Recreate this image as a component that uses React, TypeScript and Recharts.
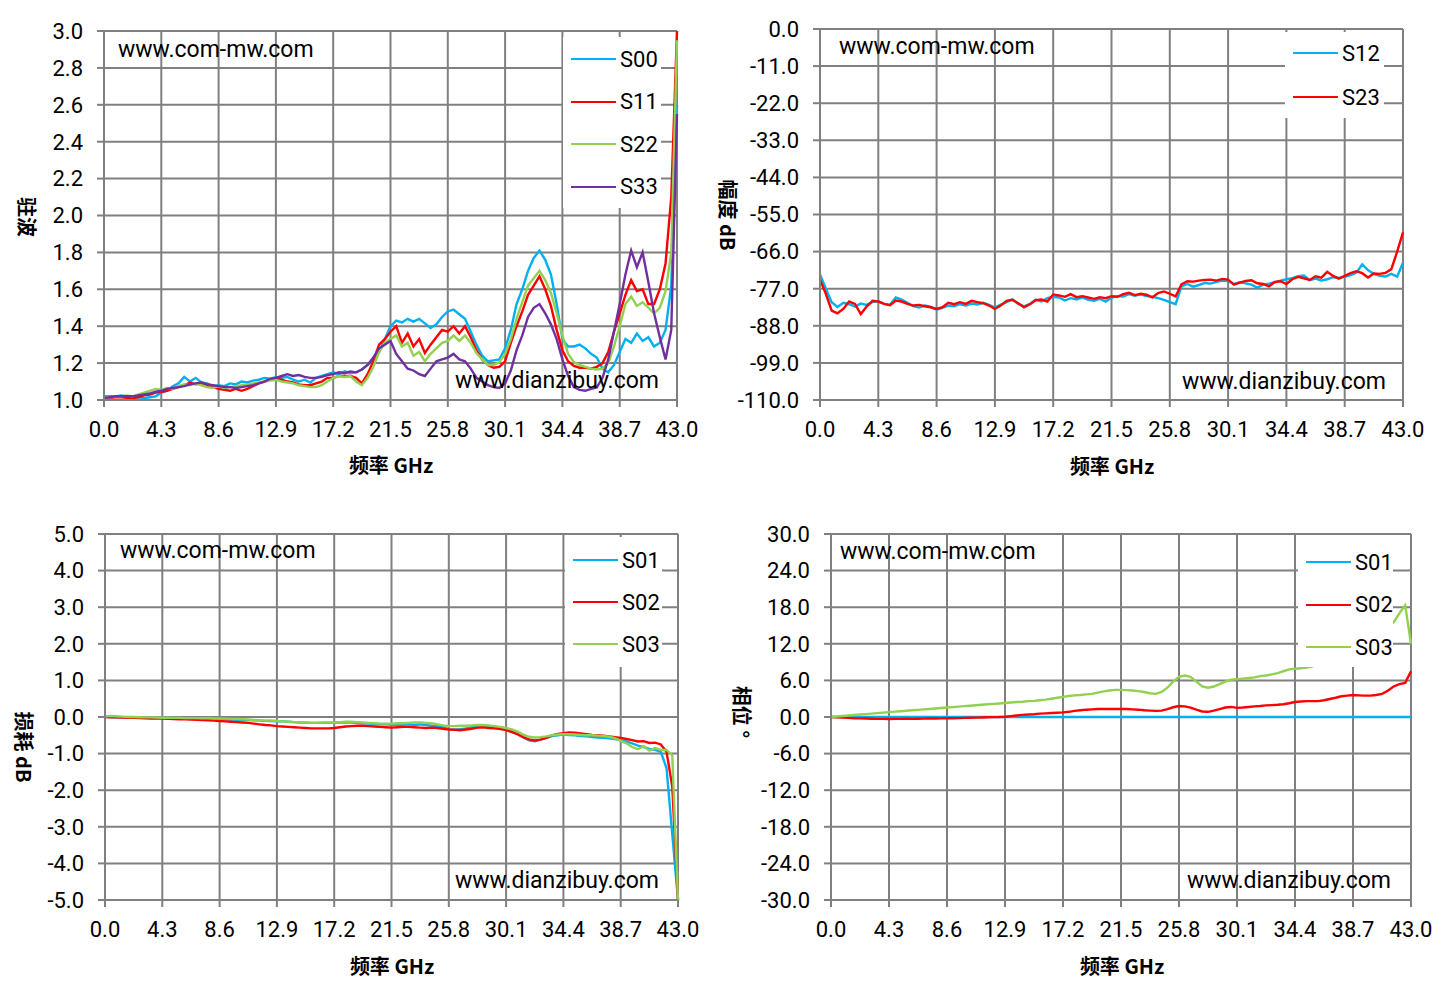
import React from 'react';
import { LineChart, Line, XAxis, YAxis, CartesianGrid, Legend } from 'recharts';

const FONT = "Roboto, 'Noto Sans CJK SC', sans-serif";
const CJK = "'Noto Sans CJK SC', Roboto, sans-serif";
const GRID = '#808080';

const BLUE = '#00b0f0';
const RED = '#ff0000';
const GREEN = '#92d050';
const PURPLE = '#7030a0';

const FREQ_TICKS = [0, 4.3, 8.6, 12.9, 17.2, 21.5, 25.8, 30.1, 34.4, 38.7, 43];
const VSWR_TICKS = [1, 1.2, 1.4, 1.6, 1.8, 2, 2.2, 2.4, 2.6, 2.8, 3];
const MAG_TICKS = [-110, -99, -88, -77, -66, -55, -44, -33, -22, -11, 0];
const LOSS_TICKS = [-5, -4, -3, -2, -1, 0, 1, 2, 3, 4, 5];
const PHASE_TICKS = [-30, -24, -18, -12, -6, 0, 6, 12, 18, 24, 30];

// VSWR (top left), one value every 0.43 GHz
const VSWR_S00 = [
  1.02, 1.02, 1.02, 1.025, 1.02, 1.015, 1.015, 1.01, 1.015, 1.02,
  1.04, 1.05, 1.075, 1.09, 1.125, 1.10, 1.12, 1.095, 1.09, 1.075,
  1.08, 1.075, 1.09, 1.085, 1.10, 1.095, 1.105, 1.11, 1.12, 1.115,
  1.125, 1.12, 1.125, 1.11, 1.10, 1.11, 1.095, 1.12, 1.13, 1.14,
  1.15, 1.14, 1.155, 1.145, 1.15, 1.165, 1.19, 1.22, 1.26, 1.33,
  1.40, 1.43, 1.42, 1.44, 1.425, 1.44, 1.415, 1.39, 1.41, 1.45,
  1.48, 1.49, 1.465, 1.44, 1.37, 1.30, 1.24, 1.21, 1.215, 1.22,
  1.28, 1.38, 1.52, 1.60, 1.70, 1.77, 1.81, 1.76, 1.68, 1.52,
  1.33, 1.29, 1.29, 1.30, 1.28, 1.25, 1.23, 1.17, 1.15, 1.19,
  1.26, 1.33, 1.31, 1.36, 1.32, 1.34, 1.29, 1.31, 1.38, 1.62, 2.60,
];
const VSWR_S11 = [
  1.01, 1.012, 1.015, 1.015, 1.012, 1.01, 1.015, 1.025, 1.03, 1.04,
  1.045, 1.05, 1.06, 1.07, 1.08, 1.095, 1.085, 1.09, 1.075, 1.07,
  1.06, 1.055, 1.05, 1.06, 1.05, 1.06, 1.075, 1.09, 1.10, 1.11,
  1.115, 1.11, 1.10, 1.095, 1.085, 1.08, 1.08, 1.09, 1.10, 1.12,
  1.12, 1.13, 1.13, 1.13, 1.12, 1.09, 1.14, 1.21, 1.30, 1.33,
  1.37, 1.40, 1.31, 1.36, 1.29, 1.33, 1.255, 1.30, 1.34, 1.38,
  1.37, 1.40, 1.36, 1.40, 1.34, 1.27, 1.22, 1.19, 1.175, 1.18,
  1.21, 1.31, 1.40, 1.48, 1.57, 1.62, 1.67, 1.60, 1.51, 1.38,
  1.27, 1.21, 1.185, 1.175, 1.175, 1.17, 1.18, 1.20, 1.26, 1.37,
  1.47, 1.57, 1.65, 1.59, 1.60, 1.52, 1.52, 1.60, 1.74, 2.10, 3.0,
];
const VSWR_S22 = [
  1.01, 1.015, 1.02, 1.02, 1.025, 1.02, 1.03, 1.04, 1.05, 1.06,
  1.055, 1.065, 1.06, 1.075, 1.085, 1.08, 1.09, 1.08, 1.07, 1.065,
  1.075, 1.065, 1.07, 1.075, 1.08, 1.085, 1.09, 1.095, 1.10, 1.105,
  1.11, 1.10, 1.095, 1.09, 1.08, 1.075, 1.07, 1.07, 1.08, 1.10,
  1.12, 1.13, 1.125, 1.13, 1.10, 1.08, 1.12, 1.18, 1.26, 1.31,
  1.33, 1.35, 1.29, 1.31, 1.24, 1.26, 1.21, 1.25, 1.28, 1.31,
  1.32, 1.35, 1.32, 1.35, 1.31, 1.255, 1.22, 1.19, 1.19, 1.205,
  1.25, 1.33, 1.44, 1.53, 1.62, 1.66, 1.70, 1.65, 1.58, 1.47,
  1.35, 1.25, 1.205, 1.19, 1.18, 1.17, 1.165, 1.17, 1.20, 1.29,
  1.40, 1.52, 1.56, 1.51, 1.53, 1.50, 1.47, 1.50, 1.59, 1.80, 2.95,
];
const VSWR_S33 = [
  1.01, 1.015, 1.02, 1.02, 1.02, 1.02, 1.025, 1.03, 1.035, 1.045,
  1.05, 1.06, 1.065, 1.07, 1.075, 1.085, 1.09, 1.095, 1.085, 1.08,
  1.075, 1.07, 1.07, 1.065, 1.07, 1.075, 1.08, 1.09, 1.10, 1.115,
  1.12, 1.13, 1.14, 1.13, 1.135, 1.125, 1.12, 1.12, 1.125, 1.135,
  1.14, 1.15, 1.145, 1.155, 1.15, 1.165, 1.19, 1.23, 1.28, 1.30,
  1.32, 1.25, 1.21, 1.17, 1.16, 1.14, 1.13, 1.17, 1.21, 1.22,
  1.23, 1.25, 1.22, 1.21, 1.17, 1.12, 1.10, 1.08, 1.07, 1.065,
  1.09, 1.16, 1.27, 1.35, 1.45, 1.50, 1.52, 1.47, 1.41, 1.33,
  1.22, 1.13, 1.07, 1.055, 1.05, 1.06, 1.068, 1.12, 1.22, 1.37,
  1.52, 1.68, 1.81, 1.72, 1.80, 1.64, 1.47, 1.34, 1.22, 1.38, 2.55,
];

// isolation magnitude, dB (top right)
const MAG_S12 = [
  -72.8, -77, -81, -82.4, -81.2, -81.6, -82.3, -81.4, -81.8, -81,
  -80.7, -81.5, -81.8, -79.6, -80.2, -81.2, -82.2, -82.6, -82, -82.4,
  -83.2, -82.7, -82, -82.2, -81.6, -82, -81.4, -81.7, -81.2, -81.8,
  -82.6, -81.7, -81, -80.2, -81.5, -82.2, -81.5, -80.3, -80.8, -79.8,
  -79.4, -79.6, -80.5, -79.8, -80.2, -79.6, -80.3, -80.6, -80, -80.8,
  -79.7, -79.2, -79.3, -78.6, -79.1, -78.7, -79.2, -79.4, -79.8, -80.3,
  -81, -81.6, -76.3, -75.6, -76.4, -75.9, -75.3, -75.5, -75, -74.6,
  -74.7, -75.6, -75.1, -75.4, -75.8, -76.7, -75.8, -75.5, -75.1, -74.6,
  -74.2, -73.9, -73.3, -73.1, -74.5, -74, -74.6, -74.2, -73.6, -73.8,
  -73.5, -73, -72.3, -69.8, -71.5, -72.6, -73.2, -73.4, -72.6, -73.4, -69.3,
];
const MAG_S23 = [
  -74.3, -78.5, -83.5, -84.3, -83, -80.8, -81.5, -84.5, -82.3, -80.6,
  -80.8, -81.5, -81.9, -80.5, -80.8, -81.5, -82, -81.8, -82.2, -82.5,
  -83, -82.5, -81.2, -81.6, -81, -81.5, -80.6, -81, -81.3, -82,
  -83, -82, -80.6, -80.3, -81.3, -82.5, -81.6, -80.4, -80.2, -80.8,
  -78.7, -79, -79.4, -78.6, -79.5, -79.2, -79.6, -80, -79.5, -79.8,
  -79.2, -79.4, -78.6, -78.2, -78.9, -78.5, -78.8, -79.6, -78.3, -77.8,
  -78.5, -79.3, -75.7, -74.8, -74.9, -74.6, -74.4, -74.3, -74.6, -74.1,
  -74.3, -75.8, -75.2, -74.7, -74.5, -75.4, -75.6, -76.3, -75, -74.8,
  -75.6, -74.2, -73.5, -73.9, -74.4, -73.3, -73.7, -72, -73.2, -74,
  -73.2, -72.4, -71.8, -72.4, -73.7, -72.5, -72.6, -72.3, -71.2, -66, -60.3,
];

// insertion loss, dB (bottom left)
const LOSS_S01 = [
  0, 0, -0.01, -0.01, -0.01, -0.015, -0.02, -0.02, -0.02, -0.025,
  -0.03, -0.03, -0.035, -0.035, -0.04, -0.04, -0.045, -0.05, -0.05, -0.055,
  -0.06, -0.065, -0.07, -0.075, -0.08, -0.085, -0.09, -0.1, -0.105, -0.11,
  -0.115, -0.12, -0.13, -0.14, -0.15, -0.155, -0.16, -0.16, -0.16, -0.16,
  -0.155, -0.15, -0.15, -0.15, -0.16, -0.17, -0.18, -0.19, -0.2, -0.2,
  -0.21, -0.21, -0.21, -0.2, -0.22, -0.2, -0.22, -0.24, -0.25, -0.28,
  -0.33, -0.35, -0.33, -0.31, -0.28, -0.27, -0.26, -0.27, -0.29, -0.3,
  -0.33, -0.4, -0.47, -0.56, -0.64, -0.66, -0.62, -0.57, -0.52, -0.5,
  -0.48, -0.49, -0.5, -0.52, -0.53, -0.55, -0.56, -0.57, -0.58, -0.6,
  -0.63, -0.67, -0.72, -0.78, -0.82, -0.87, -0.9, -0.95, -1.4, -3.2, -5,
];
const LOSS_S02 = [
  0, -0.005, -0.01, -0.015, -0.02, -0.025, -0.03, -0.035, -0.04, -0.045,
  -0.045, -0.05, -0.055, -0.06, -0.065, -0.07, -0.075, -0.08, -0.09, -0.1,
  -0.11, -0.12, -0.13, -0.14, -0.15, -0.16, -0.18, -0.2, -0.22, -0.23,
  -0.25, -0.26, -0.27, -0.28, -0.29, -0.3, -0.31, -0.31, -0.31, -0.31,
  -0.3, -0.28, -0.26, -0.25, -0.24, -0.24, -0.25, -0.26, -0.27, -0.28,
  -0.29, -0.28, -0.27, -0.27, -0.28, -0.29, -0.3, -0.29, -0.3, -0.32,
  -0.34, -0.35, -0.36, -0.34, -0.32, -0.29, -0.28, -0.3, -0.31, -0.33,
  -0.36, -0.41, -0.47, -0.55, -0.61, -0.64, -0.62, -0.57, -0.5, -0.46,
  -0.44, -0.42, -0.43, -0.45, -0.47, -0.49, -0.5, -0.51, -0.53, -0.55,
  -0.57, -0.6, -0.63, -0.67, -0.66, -0.71, -0.7, -0.75, -0.95, -1.9, -5,
];
const LOSS_S03 = [
  0.01, 0.03, 0.02, 0.01, 0, 0, -0.005, -0.01, -0.01, -0.015,
  -0.02, -0.02, -0.025, -0.025, -0.03, -0.03, -0.03, -0.035, -0.035, -0.04,
  -0.04, -0.045, -0.05, -0.055, -0.06, -0.07, -0.08, -0.09, -0.1, -0.1,
  -0.11, -0.12, -0.13, -0.14, -0.15, -0.15, -0.16, -0.16, -0.15, -0.15,
  -0.15, -0.14, -0.13, -0.13, -0.14, -0.15, -0.16, -0.17, -0.18, -0.18,
  -0.18, -0.17, -0.17, -0.16, -0.15, -0.15, -0.16, -0.17, -0.2, -0.23,
  -0.25, -0.25, -0.24, -0.24, -0.23, -0.22, -0.22, -0.23, -0.25, -0.27,
  -0.3, -0.34, -0.4, -0.48, -0.54, -0.56, -0.55, -0.53, -0.5, -0.48,
  -0.47, -0.47, -0.48, -0.49, -0.5, -0.5, -0.51, -0.52, -0.54, -0.58,
  -0.65, -0.72, -0.82, -0.88, -0.8, -0.92, -0.85, -0.9, -0.9, -1.05, -5,
];

// phase, degrees (bottom right)
const PHASE_S01 = [
  0, 0, 0, 0, 0, 0, 0, 0, 0, 0,
  0, 0, 0, 0, 0, 0, 0, 0, 0, 0,
  0, 0, 0, 0, 0, 0, 0, 0, 0, 0,
  0, 0, 0, 0, 0, 0, 0, 0, 0, 0,
  0, 0, 0, 0, 0, 0, 0, 0, 0, 0,
  0, 0, 0, 0, 0, 0, 0, 0, 0, 0,
  0, 0, 0, 0, 0, 0, 0, 0, 0, 0,
  0, 0, 0, 0, 0, 0, 0, 0, 0, 0,
  0, 0, 0, 0, 0, 0, 0, 0, 0, 0,
  0, 0, 0, 0, 0, 0, 0, 0, 0, 0, 0,
];
const PHASE_S02 = [
  0, -0.05, -0.1, -0.15, -0.2, -0.22, -0.25, -0.28, -0.3, -0.3,
  -0.32, -0.3, -0.3, -0.28, -0.3, -0.28, -0.26, -0.25, -0.25, -0.22,
  -0.2, -0.2, -0.18, -0.15, -0.12, -0.1, -0.08, -0.05, -0.02, 0,
  0.05, 0.15, 0.25, 0.35, 0.4, 0.45, 0.55, 0.6, 0.65, 0.7,
  0.75, 0.85, 1.0, 1.1, 1.2, 1.25, 1.3, 1.3, 1.3, 1.3,
  1.3, 1.3, 1.25, 1.2, 1.1, 1.05, 1.0, 1.05, 1.3, 1.6,
  1.8, 1.75, 1.55, 1.2, 0.9, 0.85, 1.05, 1.3, 1.55, 1.65,
  1.5, 1.55, 1.65, 1.75, 1.8, 1.9, 1.95, 2.0, 2.1, 2.25,
  2.45, 2.55, 2.6, 2.6, 2.6, 2.75, 2.95, 3.15, 3.4, 3.5,
  3.6, 3.55, 3.5, 3.5, 3.6, 3.8, 4.3, 5.0, 5.4, 5.6, 7.5,
];
const PHASE_S03 = [
  0, 0.08, 0.16, 0.24, 0.32, 0.4, 0.48, 0.56, 0.64, 0.72,
  0.8, 0.88, 0.95, 1.02, 1.1, 1.17, 1.25, 1.32, 1.4, 1.47,
  1.55, 1.62, 1.7, 1.78, 1.85, 1.93, 2.0, 2.08, 2.15, 2.22,
  2.3, 2.38, 2.45, 2.5, 2.6, 2.65, 2.75, 2.85, 3.0, 3.15,
  3.3, 3.45, 3.55, 3.6, 3.7, 3.8, 4.0, 4.2, 4.35, 4.45,
  4.45, 4.4, 4.35, 4.25, 4.1, 3.9, 3.8, 4.1, 4.8, 5.8,
  6.6, 6.8, 6.6, 5.8, 5.0, 4.8, 5.0, 5.4, 5.8, 6.1,
  6.2, 6.3, 6.4, 6.5, 6.7, 6.8, 7.0, 7.2, 7.5, 7.8,
  7.9, 8.0, 8.1, 8.3, 8.6, 9.0, 9.4, 9.8, 10.3, 10.8,
  11.3, 11.9, 12.5, 13.1, 13.7, 14.2, 14.8, 15.5, 17.0, 18.3, 12.0,
];

// measurement grid: 101 points, 0.43 GHz apart
const FREQ = VSWR_S00.map((_, i) => Math.round(i * 43) / 100);

type Series = { key: string; name: string; color: string; values: number[] };
type Pt = { x: number; y: number };

type PanelProps = {
  left: number;
  top: number;
  width: number;
  height: number;
  margin: { top: number; right: number; bottom: number; left: number };
  yDomain: [number, number];
  yTicks: number[];
  series: Series[];
  legend: { left: number; top: number; width: number; height: number; firstY: number; gap: number };
  yTitle: string;
  yTitlePos: Pt;
  xTitlePos: Pt;
  mwPos: Pt;
  dzPos: Pt;
};

const LegendBox = ({ payload, firstY, gap }: any) => (
  <div style={{ position: 'relative', width: '100%', height: '100%', background: '#fff' }}>
    {(payload || []).map((p: any, i: number) => (
      <div
        key={p.value}
        style={{
          position: 'absolute',
          left: 8,
          top: firstY + i * gap - 13,
          height: 26,
          display: 'flex',
          alignItems: 'center',
        }}
      >
        <span style={{ display: 'inline-block', width: 45, height: 2, background: p.color }} />
        <span style={{ marginLeft: 4, fontSize: 22, color: '#000', fontFamily: FONT }}>{p.value}</span>
      </div>
    ))}
  </div>
);

function Panel(props: PanelProps) {
  const { left, top, width, height, margin, yDomain, yTicks, series, legend } = props;
  const rows = FREQ.map((f, i) => {
    const r: any = { f };
    series.forEach((s) => {
      r[s.key] = s.values[i];
    });
    return r;
  });
  const tickStyle = { fill: '#000', fontSize: 22, fontFamily: FONT };
  const axisStroke = { stroke: GRID, strokeWidth: 2 };

  return (
    <div style={{ position: 'absolute', left, top, width, height }}>
      <LineChart width={width} height={height} data={rows} margin={margin}>
        <CartesianGrid stroke={GRID} strokeWidth={2} />
        <XAxis
          dataKey="f"
          type="number"
          domain={[0, 43]}
          ticks={FREQ_TICKS}
          interval={0}
          tickFormatter={(v: number) => v.toFixed(1)}
          tickSize={7}
          tickMargin={14}
          height={60}
          axisLine={axisStroke}
          tickLine={axisStroke}
          tick={tickStyle}
        />
        <YAxis
          type="number"
          domain={yDomain}
          ticks={yTicks}
          interval={0}
          tickFormatter={(v: number) => v.toFixed(1)}
          tickSize={7}
          tickMargin={14}
          width={60}
          axisLine={axisStroke}
          tickLine={axisStroke}
          tick={tickStyle}
        />
        {series.map((s) => (
          <Line
            key={s.key}
            type="linear"
            dataKey={s.key}
            name={s.name}
            stroke={s.color}
            strokeWidth={2.4}
            dot={false}
            activeDot={false}
            isAnimationActive={false}
          />
        ))}
        <Legend
          layout="vertical"
          align="center"
          verticalAlign="middle"
          wrapperStyle={{
            left: legend.left,
            top: legend.top,
            width: legend.width,
            height: legend.height,
            background: '#fff',
          }}
          content={(p: any) => <LegendBox payload={p.payload} firstY={legend.firstY} gap={legend.gap} />}
        />
      </LineChart>

      <div style={{ position: 'absolute', left: props.mwPos.x, top: props.mwPos.y - 12, fontSize: 23, lineHeight: '24px', fontFamily: FONT, color: '#000', pointerEvents: 'none' }}>
        www.com-mw.com
      </div>
      <div style={{ position: 'absolute', left: props.dzPos.x, top: props.dzPos.y - 12, fontSize: 23, lineHeight: '24px', fontFamily: FONT, color: '#000', pointerEvents: 'none' }}>
        www.dianzibuy.com
      </div>
      <div
        style={{
          position: 'absolute',
          left: props.xTitlePos.x,
          top: props.xTitlePos.y,
          transform: 'translate(-50%, -50%)',
          fontSize: 20,
          fontWeight: 'bold',
          fontFamily: CJK,
          whiteSpace: 'nowrap',
        }}
      >
        频率 GHz
      </div>
      <div
        style={{
          position: 'absolute',
          left: props.yTitlePos.x,
          top: props.yTitlePos.y,
          transform: 'translate(-50%, -50%) rotate(90deg)',
          fontSize: 20,
          fontWeight: 'bold',
          fontFamily: CJK,
          whiteSpace: 'nowrap',
        }}
      >
        {props.yTitle}
      </div>
    </div>
  );
}

export default function App() {
  return (
    <div style={{ position: 'absolute', left: 0, top: 0, width: 1442, height: 996, background: '#fff', fontFamily: FONT }}>
      <Panel
        left={0}
        top={0}
        width={720}
        height={490}
        margin={{ top: 31, right: 43, bottom: 30, left: 44 }}
        yDomain={[1, 3]}
        yTicks={VSWR_TICKS}
        series={[
          { key: 's00', name: 'S00', color: BLUE, values: VSWR_S00 },
          { key: 's11', name: 'S11', color: RED, values: VSWR_S11 },
          { key: 's22', name: 'S22', color: GREEN, values: VSWR_S22 },
          { key: 's33', name: 'S33', color: PURPLE, values: VSWR_S33 },
        ]}
        legend={{ left: 563, top: 37, width: 98, height: 171, firstY: 22, gap: 42.5 }}
        yTitle="驻波"
        yTitlePos={{ x: 27, y: 217 }}
        xTitlePos={{ x: 391, y: 464 }}
        mwPos={{ x: 118, y: 50 }}
        dzPos={{ x: 455, y: 381 }}
      />
      <Panel
        left={720}
        top={0}
        width={722}
        height={490}
        margin={{ top: 29, right: 39, bottom: 30, left: 40 }}
        yDomain={[-110, 0]}
        yTicks={MAG_TICKS}
        series={[
          { key: 's12', name: 'S12', color: BLUE, values: MAG_S12 },
          { key: 's23', name: 'S23', color: RED, values: MAG_S23 },
        ]}
        legend={{ left: 565, top: 32, width: 99, height: 86, firstY: 21, gap: 44 }}
        yTitle="幅度 dB"
        yTitlePos={{ x: 8, y: 215 }}
        xTitlePos={{ x: 392, y: 465 }}
        mwPos={{ x: 119, y: 47 }}
        dzPos={{ x: 462, y: 382 }}
      />
      <Panel
        left={0}
        top={500}
        width={720}
        height={496}
        margin={{ top: 34, right: 42, bottom: 36, left: 45 }}
        yDomain={[-5, 5]}
        yTicks={LOSS_TICKS}
        series={[
          { key: 's01', name: 'S01', color: BLUE, values: LOSS_S01 },
          { key: 's02', name: 'S02', color: RED, values: LOSS_S02 },
          { key: 's03', name: 'S03', color: GREEN, values: LOSS_S03 },
        ]}
        legend={{ left: 565, top: 37, width: 97, height: 130, firstY: 23, gap: 42 }}
        yTitle="损耗 dB"
        yTitlePos={{ x: 24, y: 247 }}
        xTitlePos={{ x: 392, y: 465 }}
        mwPos={{ x: 120, y: 51 }}
        dzPos={{ x: 455, y: 381 }}
      />
      <Panel
        left={720}
        top={500}
        width={722}
        height={496}
        margin={{ top: 34, right: 31, bottom: 36, left: 51 }}
        yDomain={[-30, 30]}
        yTicks={PHASE_TICKS}
        series={[
          { key: 'p01', name: 'S01', color: BLUE, values: PHASE_S01 },
          { key: 'p02', name: 'S02', color: RED, values: PHASE_S02 },
          { key: 'p03', name: 'S03', color: GREEN, values: PHASE_S03 },
        ]}
        legend={{ left: 578, top: 35, width: 95, height: 132, firstY: 27, gap: 42.5 }}
        yTitle="相位 °"
        yTitlePos={{ x: 22, y: 212 }}
        xTitlePos={{ x: 402, y: 465 }}
        mwPos={{ x: 120, y: 52 }}
        dzPos={{ x: 467, y: 381 }}
      />
    </div>
  );
}
